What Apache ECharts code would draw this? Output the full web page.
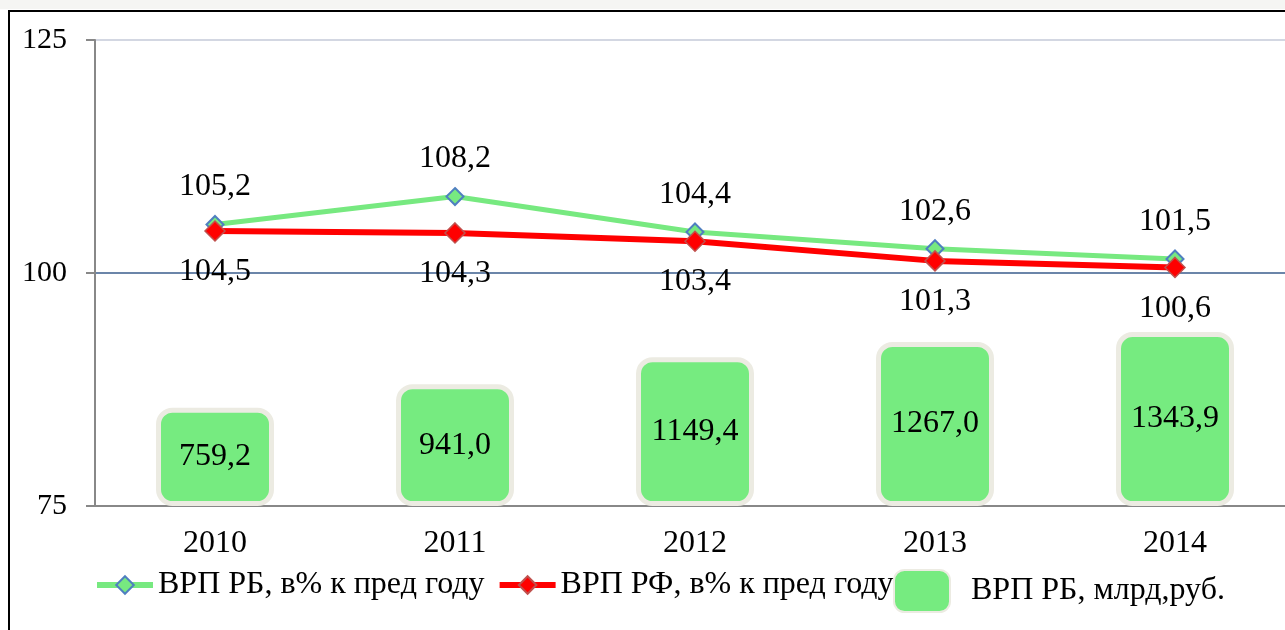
<!DOCTYPE html>
<html>
<head>
<meta charset="utf-8">
<script src="https://cdn.jsdelivr.net/npm/echarts@6/dist/echarts.min.js"></script>
<style>
  html, body { margin: 0; padding: 0; background: #fff; }
  #chart { width: 1285px; height: 630px; }
</style>
</head>
<body>
<div id="chart"></div>
<script>
const years = ['2010', '2011', '2012', '2013', '2014']
const grpRbPercent = [105.2, 108.2, 104.4, 102.6, 101.5]
const grpRfPercent = [104.5, 104.3, 103.4, 101.3, 100.6]
const grpRbBln = [759.2, 941.0, 1149.4, 1267.0, 1343.9]

const seriesNames = ['ВРП РБ, в% к пред году', 'ВРП РФ, в% к пред году', 'ВРП РБ, млрд,руб.']
const font = "'Liberation Serif', 'Times New Roman', serif"
const fmt = (v) => v.toFixed(1).replace('.', ',')

const chart = echarts.init(document.getElementById('chart'))

chart.setOption({
  backgroundColor: '#fff',
  animation: false,
  textStyle: { fontFamily: font, color: '#000' },
  graphic: [
    { type: 'rect', shape: { x: 0, y: 0, width: 1285, height: 9 }, style: { fill: '#f5f5f3' }, silent: true },
    { type: 'rect', shape: { x: 9, y: 11, width: 1300, height: 650 }, style: { fill: 'none', stroke: '#000', lineWidth: 2 }, silent: true },
  ],
  grid: { left: 95, width: 1200, top: 40, bottom: 124, outerBoundsMode: 'none', containLabel: false },
  legend: [
    {
      data: [seriesNames[0], seriesNames[1]],
      left: 89, top: 564,
      itemWidth: 56, itemHeight: 22, itemGap: 12,
      lineStyle: { width: 6 },
      textStyle: { fontFamily: font, fontSize: 32, color: '#000' },
    },
    {
      data: [seriesNames[2]],
      left: 888, top: 564,
      itemWidth: 56, itemHeight: 42,
      textStyle: { fontFamily: font, fontSize: 32, color: '#000', padding: [0, 0, 0, 16] },
    },
  ],
  xAxis: {
    type: 'category',
    data: years,
    axisLine: { lineStyle: { color: '#888', width: 2 } },
    axisTick: { length: 8, lineStyle: { color: '#888', width: 2 } },
    axisLabel: { fontFamily: font, fontSize: 32, color: '#000', margin: 22 },
  },
  yAxis: [
    {
      type: 'value', min: 75, max: 125, interval: 25,
      axisLine: { show: true, lineStyle: { color: '#888', width: 2 } },
      axisTick: { show: true, length: 9, lineStyle: { color: '#888', width: 2 } },
      axisLabel: { fontFamily: font, fontSize: 30, color: '#000', margin: 28 },
      splitLine: { lineStyle: { color: ['#888', '#3a5d8c', '#c4cad8'], width: 1.5 } },
    },
    { type: 'value', min: 0, max: 3600, show: false, splitLine: { show: false } },
  ],
  series: [
    {
      name: seriesNames[2],
      type: 'bar',
      yAxisIndex: 1,
      data: grpRbBln,
      barWidth: 118,
      z: 1,
      itemStyle: { color: '#76eb80', borderColor: '#ecebe2', borderWidth: 5, borderRadius: 14 },
      label: {
        show: true, position: 'inside',
        fontFamily: font, fontSize: 32, color: '#000',
        formatter: (p) => fmt(p.value),
      },
    },
    {
      name: seriesNames[0],
      type: 'line',
      data: grpRbPercent,
      z: 3,
      symbol: 'diamond', symbolSize: 17,
      lineStyle: { color: '#77e980', width: 5 },
      itemStyle: { color: '#77e980', borderColor: '#4f7fc0', borderWidth: 2 },
      label: {
        show: true, position: 'top', distance: 12,
        fontFamily: font, fontSize: 32, color: '#000',
        formatter: (p) => fmt(p.value),
      },
    },
    {
      name: seriesNames[1],
      type: 'line',
      data: grpRfPercent,
      z: 4,
      symbol: 'diamond', symbolSize: 20,
      lineStyle: { color: '#ff0000', width: 6 },
      itemStyle: { color: '#ff0000', borderColor: '#c0504d', borderWidth: 1.5 },
      label: {
        show: true, position: 'bottom', distance: 14,
        fontFamily: font, fontSize: 32, color: '#000',
        formatter: (p) => fmt(p.value),
      },
    },
  ],
})
</script>
</body>
</html>
